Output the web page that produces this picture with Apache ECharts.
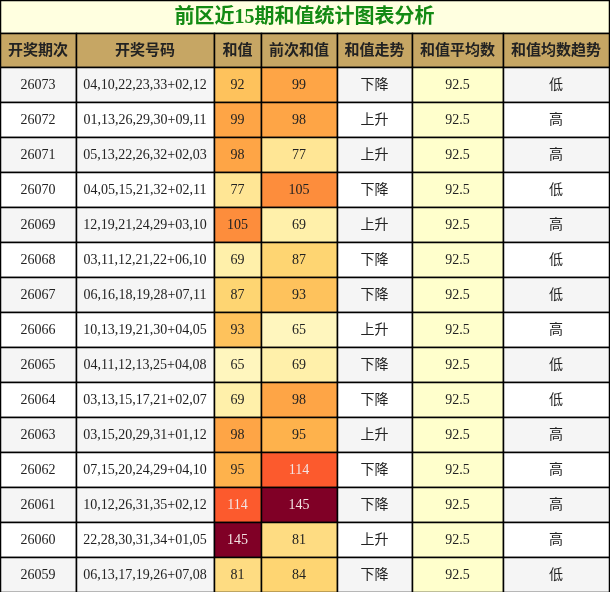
<!DOCTYPE html>
<html lang="zh">
<head>
<meta charset="UTF-8">
<title>前区近15期和值统计</title>
<script src="https://cdn.jsdelivr.net/npm/echarts@6/dist/echarts.min.js"></script>
<style>
    html, body { margin: 0; padding: 0; background: #fff; }
    #chart { width: 610px; height: 592px; }
</style>
</head>
<body>
<div id="chart"></div>
<script>
    var title = '前区近15期和值统计图表分析';
    var headers = ['开奖期次', '开奖号码', '和值', '前次和值', '和值走势', '和值平均数', '和值均数趋势'];
    var issues = ['26073','26072','26071','26070','26069','26068','26067','26066','26065','26064','26063','26062','26061','26060','26059'];
    var numbers = ['04,10,22,23,33+02,12','01,13,26,29,30+09,11','05,13,22,26,32+02,03','04,05,15,21,32+02,11',
        '12,19,21,24,29+03,10','03,11,12,21,22+06,10','06,16,18,19,28+07,11','10,13,19,21,30+04,05',
        '04,11,12,13,25+04,08','03,13,15,17,21+02,07','03,15,20,29,31+01,12','07,15,20,24,29+04,10',
        '10,12,26,31,35+02,12','22,28,30,31,34+01,05','06,13,17,19,26+07,08'];
    var sums = [92, 99, 98, 77, 105, 69, 87, 93, 65, 69, 98, 95, 114, 145, 81];
    var prevSums = [99, 98, 77, 105, 69, 87, 93, 65, 69, 98, 95, 114, 145, 81, 84];
    var trends = ['下降','上升','上升','下降','上升','下降','下降','上升','下降','下降','上升','下降','下降','上升','下降'];
    var avgs = ['92.5','92.5','92.5','92.5','92.5','92.5','92.5','92.5','92.5','92.5','92.5','92.5','92.5','92.5','92.5'];
    var avgTrends = ['低','高','高','低','高','低','低','高','低','低','高','高','高','高','低'];

    // layout
    var colEdges = [0, 76, 214, 261, 337, 412, 503, 609];
    var titleH = 33, headH = 34, rowH = 35;

    function heatColor(v) {
        if (v >= 140) return '#800026';
        if (v >= 110) return '#FC5A2D';
        if (v >= 100) return '#FD8D3C';
        if (v >= 96) return '#FEA546';
        if (v >= 94) return '#FEB24C';
        if (v >= 90) return '#FEC25C';
        if (v >= 84) return '#FED572';
        if (v >= 80) return '#FEDC82';
        if (v >= 75) return '#FFE695';
        if (v >= 68) return '#FFF0AA';
        return '#FFF6BE';
    }

    var cells = [];
    // title
    cells.push([0, 0, 7, -1, title, '#FFFFE0', '#138A13', 'title']);
    headers.forEach(function (h, c) { cells.push([c, 0, c + 1, 0, h, '#C6A664', '#222', 'head']); });
    issues.forEach(function (iss, r) {
        var bg = r % 2 === 0 ? '#F5F5F5' : '#FFFFFF';
        var vals = [iss, numbers[r], sums[r], prevSums[r], trends[r], avgs[r], avgTrends[r]];
        vals.forEach(function (v, c) {
            var fill = bg, fg = '#222';
            if (c === 2 || c === 3) { fill = heatColor(v); if (v >= 110) fg = '#F3E4E4'; }
            if (c === 5) fill = '#FFFFCC';
            cells.push([c, r + 1, c + 1, r + 1, String(v), fill, fg, 'body']);
        });
    });

    function rowTop(r) { return r < 0 ? 0 : (r === 0 ? titleH : titleH + headH + (r - 1) * rowH); }
    function rowBot(r) { return r < 0 ? titleH : (r === 0 ? titleH + headH : titleH + headH + r * rowH); }

    var option = {
        animation: false,
        grid: { left: 0, right: 0, top: 0, bottom: 0 },
        xAxis: { type: 'value', min: 0, max: 610, show: false },
        yAxis: { type: 'value', min: 0, max: 592, inverse: true, show: false },
        series: [{
            type: 'custom',
            data: cells,
            renderItem: function (params, api) {
                var d = cells[params.dataIndex];
                var r = d[3];
                var p0 = api.coord([colEdges[d[0]], rowTop(r)]);
                var p1 = api.coord([colEdges[d[2]], rowBot(r)]);
                var kind = d[7];
                var font = kind === 'title' ? 'bold 20px "Liberation Serif", "Noto Sans CJK SC", serif'
                    : kind === 'head' ? 'bold 15px "Liberation Serif", "Noto Sans CJK SC", serif'
                    : '14px "Liberation Serif", "Noto Sans CJK SC", serif';
                return {
                    type: 'group',
                    children: [{
                        type: 'rect',
                        shape: { x: p0[0] + 0.5, y: p0[1] + 0.5, width: p1[0] - p0[0], height: p1[1] - p0[1] },
                        style: { fill: d[5], stroke: '#000', lineWidth: 1.5 }
                    }, {
                        type: 'text',
                        style: {
                            x: (p0[0] + p1[0]) / 2, y: (p0[1] + p1[1]) / 2 + 1,
                            text: d[4], fill: d[6], font: font,
                            align: 'center', verticalAlign: 'middle'
                        }
                    }]
                };
            }
        }]
    };
    var chart = echarts.init(document.getElementById('chart'));
    chart.setOption(option);
</script>
</body>
</html>
